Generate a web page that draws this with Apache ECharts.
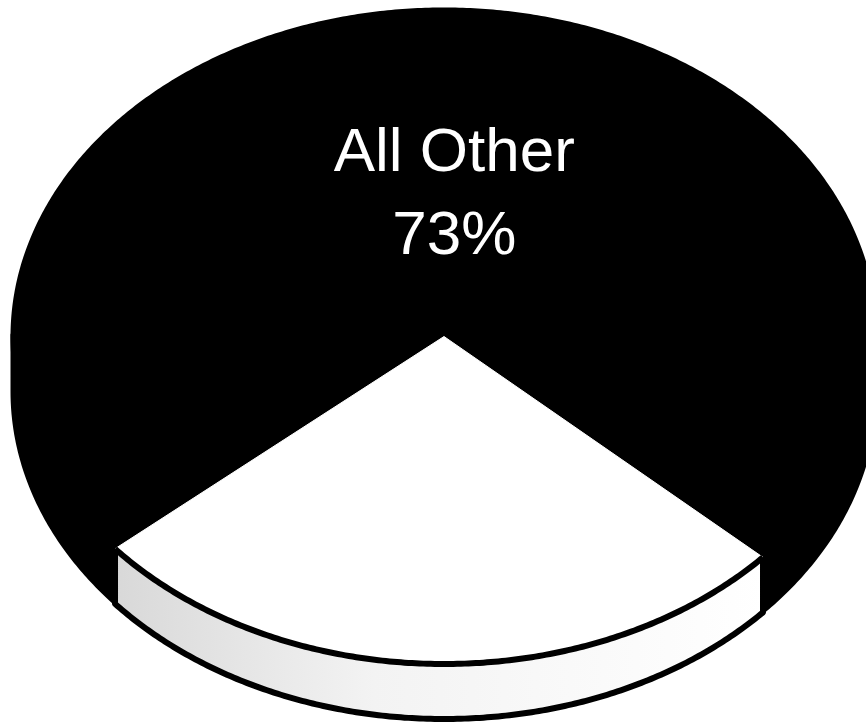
<!DOCTYPE html>
<html>
<head>
<meta charset="utf-8">
<script src="https://cdn.jsdelivr.net/npm/echarts@6/dist/echarts.min.js"></script>
<style>
  html, body { margin: 0; padding: 0; background: #ffffff; }
  #chart { width: 866px; height: 722px; }
</style>
</head>
<body>
<div id="chart"></div>
<script>
// Slice names and their percentage shares
const categories = ['All Other', 'Featured'];
const shares = [73, 27];
// Which slices carry a text label on the top face
const showLabel = [true, false];

// Running totals so each slice knows where it starts
const total = shares.reduce((a, b) => a + b, 0);
const cumulative = shares.map((_, i) => shares.slice(0, i).reduce((a, b) => a + b, 0));

// Tilted-disc geometry (screen degrees, clockwise from 3 o'clock)
const CX = 444, CY = 336.5, RX = 432, RY = 327.5, DEPTH = 55;
const START_ANGLE = 139.6;        // first slice begins here
const LABEL_RADIUS = 0.43, LABEL_DX = 7;

const topColors = ['#000000', '#ffffff'];
const sideFills = [
  '#000000',
  { type: 'linear', x: 0, y: 0, x2: 1, y2: 0,
    colorStops: [{ offset: 0, color: '#d8d8d8' }, { offset: 0.4, color: '#f3f3f3' }, { offset: 1, color: '#ffffff' }] }
];

function pt(deg, dz) {
  const r = deg * Math.PI / 180;
  return [CX + RX * Math.cos(r), CY + RY * Math.sin(r) + dz];
}
function arc(a, b, dz) {
  const pts = [];
  const n = Math.max(2, Math.ceil(Math.abs(b - a) / 0.5));
  for (let k = 0; k <= n; k++) pts.push(pt(a + (b - a) * k / n, dz));
  return pts;
}

function renderItem(params, api) {
  const i = params.dataIndex;
  const value = api.value(0);
  const before = api.value(1);
  const a1 = START_ANGLE + before / total * 360;
  const a2 = a1 + value / total * 360;
  const isDark = topColors[i] === '#000000';
  const children = [];

  // Front walls: only the part of the rim facing the viewer (0..180 deg)
  [[0, 180], [360, 540]].forEach(([lo, hi]) => {
    const s = Math.max(a1, lo), e = Math.min(a2, hi);
    if (e > s) {
      children.push({
        type: 'polygon', z2: 1,
        shape: { points: arc(s, e, -2).concat(arc(e, s, DEPTH)) },
        style: { fill: sideFills[i], stroke: '#000', lineWidth: isDark ? 3 : 6, lineJoin: 'round' }
      });
    }
  });

  // Top face
  children.push({
    type: 'polygon', z2: 2,
    shape: { points: [[CX, CY]].concat(arc(a1, a2, 0)) },
    style: { fill: topColors[i], stroke: topColors[i], lineWidth: isDark ? 3 : 1, lineJoin: 'round' }
  });

  // Rim line between top face and wall for light slices
  if (!isDark) {
    children.push({
      type: 'polyline', z2: 3,
      shape: { points: arc(a1, a2, 0) },
      style: { fill: null, stroke: '#000', lineWidth: 6, lineCap: 'butt' }
    });
  }

  if (showLabel[i]) {
    const mid = (a1 + a2) / 2;
    const p = pt(mid, 0);
    const lx = CX + (p[0] - CX) * LABEL_RADIUS + LABEL_DX;
    const ly = CY + (p[1] - CY) * LABEL_RADIUS;
    children.push({
      type: 'text', z2: 4,
      style: {
        text: categories[i] + '\n' + value + '%',
        x: lx, y: ly,
        fill: '#ffffff',
        fontSize: 62,
        fontFamily: '"Liberation Sans", Arial, Helvetica, sans-serif',
        align: 'center', verticalAlign: 'middle',
        lineHeight: 83
      }
    });
  }

  return { type: 'group', children };
}

const chart = echarts.init(document.getElementById('chart'), null, { renderer: 'canvas' });
chart.setOption({
  backgroundColor: '#ffffff',
  animation: false,
  series: [{
    type: 'custom',
    coordinateSystem: 'none',
    silent: true,
    renderItem,
    data: shares.map((v, i) => ({ name: categories[i], value: [v, cumulative[i]] }))
  }]
});
</script>
</body>
</html>
